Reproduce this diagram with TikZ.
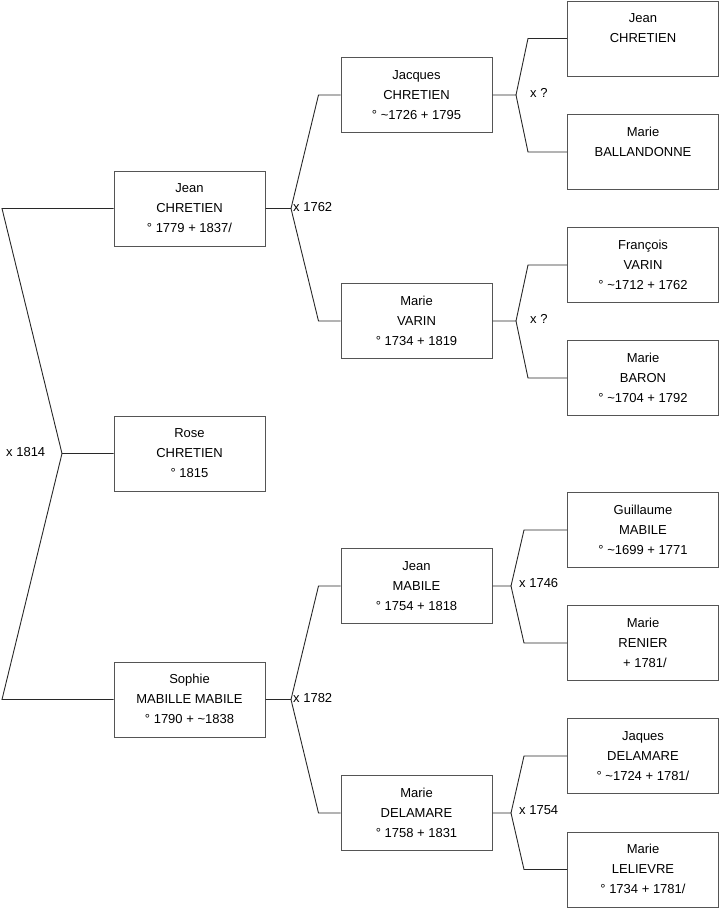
\documentclass[tikz,border=0pt]{standalone}
\usepackage{fontspec}
\setmainfont{Liberation Sans}
\definecolor{boxline}{RGB}{85,85,85}
\definecolor{conn}{RGB}{40,40,40}
\begin{document}
\begin{tikzpicture}[x=1pt,y=-1pt,
  person/.style={draw=boxline,line width=1pt,minimum width=151pt,minimum height=75pt,inner sep=0pt,align=center,font=\fontsize{13}{20}\selectfont},
  wed/.style={anchor=west,inner sep=0pt,font=\fontsize{13}{16}\selectfont},
  link/.style={draw=conn,line width=0.9pt}]
\useasboundingbox (0,0) rectangle (719,908);
% column 1
\node[person] (jc1) at (189.5,208.5) {\strut Jean\\\strut CHRETIEN\\\strut ° 1779 + 1837/};
\node[person] (rose) at (189.5,453.5) {\strut Rose\\\strut CHRETIEN\\\strut ° 1815};
\node[person] (sophie) at (189.5,699.5) {\strut Sophie\\\strut MABILLE MABILE\\\strut ° 1790 + \textasciitilde 1838};
% column 2
\node[person] (jacques) at (416.5,95) {\strut Jacques\\\strut CHRETIEN\\\strut ° \textasciitilde 1726 + 1795};
\node[person] (mvarin) at (416.5,321) {\strut Marie\\\strut VARIN\\\strut ° 1734 + 1819};
\node[person] (jmabile) at (416.5,586) {\strut Jean\\\strut MABILE\\\strut ° 1754 + 1818};
\node[person] (mdelamare) at (416.5,813) {\strut Marie\\\strut DELAMARE\\\strut ° 1758 + 1831};
% column 3
\node[person] (jc3) at (643,38.5) {\strut Jean\\\strut CHRETIEN\\\strut};
\node[person] (mball) at (643,152) {\strut Marie\\\strut BALLANDONNE\\\strut};
\node[person] (fvarin) at (643,265) {\strut François\\\strut VARIN\\\strut ° \textasciitilde 1712 + 1762};
\node[person] (mbaron) at (643,378) {\strut Marie\\\strut BARON\\\strut ° \textasciitilde 1704 + 1792};
\node[person] (gmabile) at (643,530) {\strut Guillaume\\\strut MABILE\\\strut ° \textasciitilde 1699 + 1771};
\node[person] (mrenier) at (643,643) {\strut Marie\\\strut RENIER\\\strut\hspace*{0.3em}+ 1781/};
\node[person] (jdelamare) at (643,756) {\strut Jaques\\\strut DELAMARE\\\strut ° \textasciitilde 1724 + 1781/};
\node[person] (mlelievre) at (643,869.5) {\strut Marie\\\strut LELIEVRE\\\strut ° 1734 + 1781/};
% vertices
\coordinate (v0) at (62,453.5);
\coordinate (v1) at (291,208.5);
\coordinate (v2) at (291,699.5);
\coordinate (v3) at (516,95);
\coordinate (v4) at (516,321);
\coordinate (v5) at (511,586);
\coordinate (v6) at (511,813);
% connectors
\draw[link] (rose.west) -- (v0) -- (2,208.5) -- (jc1.west);
\draw[link] (v0) -- (2,699.5) -- (sophie.west);
\draw[link] (jc1.east) -- (v1) -- ([xshift=-22pt]jacques.west) -- (jacques.west);
\draw[link] (v1) -- ([xshift=-22pt]mvarin.west) -- (mvarin.west);
\draw[link] (sophie.east) -- (v2) -- ([xshift=-22pt]jmabile.west) -- (jmabile.west);
\draw[link] (v2) -- ([xshift=-22pt]mdelamare.west) -- (mdelamare.west);
\draw[link] (jacques.east) -- (v3) -- ([xshift=-39pt]jc3.west) -- (jc3.west);
\draw[link] (v3) -- ([xshift=-39pt]mball.west) -- (mball.west);
\draw[link] (mvarin.east) -- (v4) -- ([xshift=-39pt]fvarin.west) -- (fvarin.west);
\draw[link] (v4) -- ([xshift=-39pt]mbaron.west) -- (mbaron.west);
\draw[link] (jmabile.east) -- (v5) -- ([xshift=-43pt]gmabile.west) -- (gmabile.west);
\draw[link] (v5) -- ([xshift=-43pt]mrenier.west) -- (mrenier.west);
\draw[link] (mdelamare.east) -- (v6) -- ([xshift=-43pt]jdelamare.west) -- (jdelamare.west);
\draw[link] (v6) -- ([xshift=-43pt]mlelievre.west) -- (mlelievre.west);
% marriage labels
\node[wed] (w0) at (6,452.5) {x 1814};
\node[wed] (w1) at (293,207.5) {x 1762};
\node[wed] (w2) at (293,698.5) {x 1782};
\node[wed] (w3) at (530,93) {x ?};
\node[wed] (w4) at (530,319) {x ?};
\node[wed] (w5) at (519,583) {x 1746};
\node[wed] (w6) at (519,810) {x 1754};
\end{tikzpicture}
\end{document}
